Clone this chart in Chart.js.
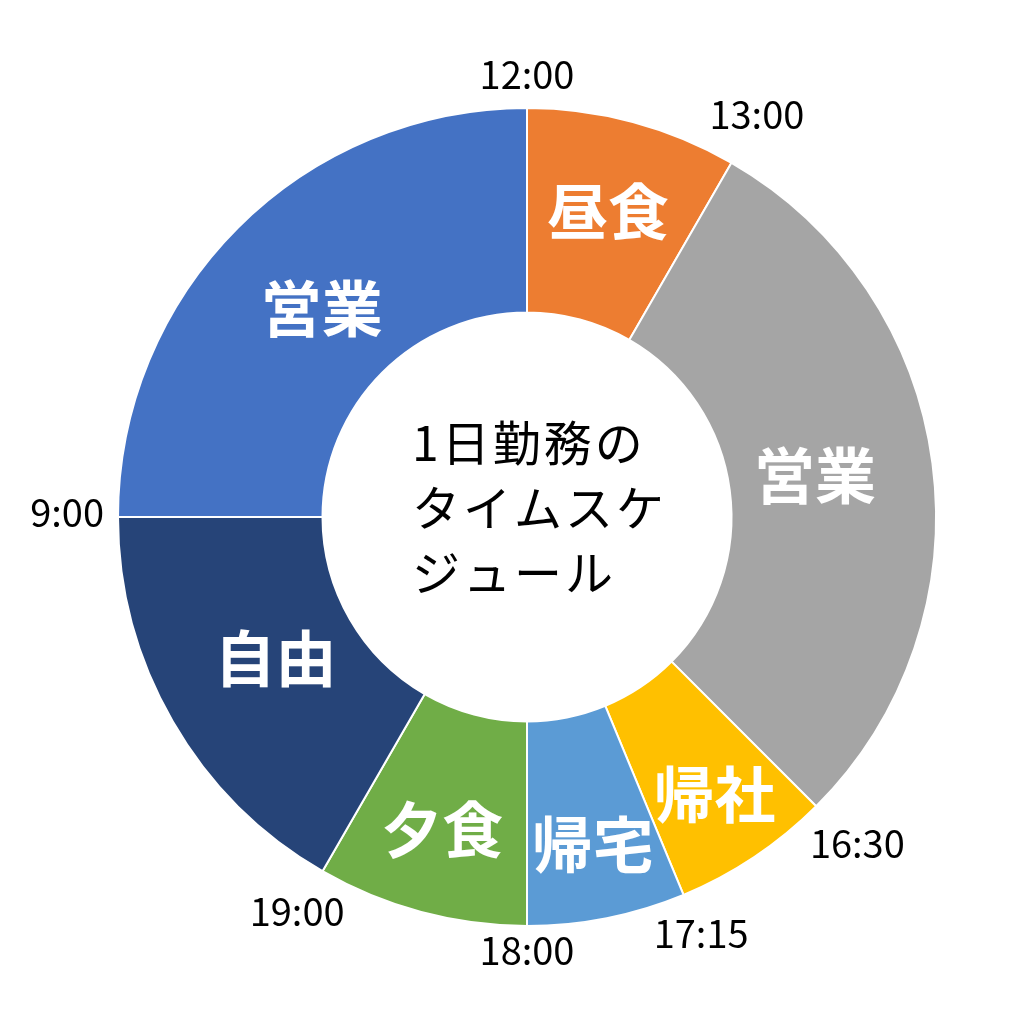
<!DOCTYPE html>
<html lang="ja">
<head>
<meta charset="utf-8">
<script src="https://cdn.jsdelivr.net/npm/chart.js@4"></script>
<style>
  html, body { margin: 0; padding: 0; background: #fff; }
  canvas { display: block; }
</style>
</head>
<body>
<canvas id="schedule" width="1020" height="1024"></canvas>
<script>
// 12時を起点に時計回り
const tasks = ['昼食', '営業', '帰社', '帰宅', '夕食', '自由', '営業'];
const hours = [1, 3.5, 0.75, 0.75, 1, 2, 3];
const startTimes = ['12:00', '13:00', '16:30', '17:15', '18:00', '19:00', '9:00'];
const colors = ['#ED7D31', '#A5A5A5', '#FFC000', '#5B9BD5', '#70AD47', '#264478', '#4472C4'];
const centerLines = ['1日勤務の', 'タイムスケ', 'ジュール'];

const jp = '"Noto Sans CJK JP", "Noto Sans", sans-serif';

// ラベル描画用プラグイン
const labelPlugin = {
    id: 'labels',
    afterDatasetsDraw(chart) {
        const ctx = chart.ctx;
        const arcs = chart.getDatasetMeta(0).data;
        ctx.save();

        // 区間名（白・太字）
        ctx.fillStyle = '#fff';
        ctx.font = 'bold 61px ' + jp;
        ctx.textAlign = 'center';
        ctx.textBaseline = 'middle';
        arcs.forEach((a, i) => {
            const mid = (a.startAngle + a.endAngle) / 2;
            const span = a.endAngle - a.startAngle;
            let r = a.outerRadius * 0.71;             // 広い区間
            if (span < 0.5) r = a.outerRadius * 0.825; // 狭い区間は外側へ
            else if (span < 0.6) r = a.outerRadius * (Math.sin(mid) > 0.5 ? 0.80 : 0.765);
            ctx.fillText(tasks[i], a.x + r * Math.cos(mid), a.y + r * Math.sin(mid) - 3);
        });

        // 開始時刻（外側）
        ctx.fillStyle = '#000';
        ctx.font = '38px ' + jp;
        arcs.forEach((a, i) => {
            const ang = a.startAngle;
            const w = ctx.measureText(startTimes[i]).width;
            const h = 30;
            const r = a.outerRadius + 14 + Math.abs(Math.cos(ang)) * w / 2 + Math.abs(Math.sin(ang)) * h / 2;
            ctx.fillText(startTimes[i], a.x + r * Math.cos(ang), a.y + r * Math.sin(ang) - 4);
        });

        // 中央のタイトル
        const c = arcs[0];
        ctx.font = '48px ' + jp;
        ctx.textAlign = 'left';
        centerLines.forEach((t, i) => {
            let x = c.x - 115;
            for (const ch of t) {
                ctx.fillText(ch, x, c.y - 74 + i * 65);
                x += ctx.measureText(ch).width + 3;
            }
        });
        ctx.restore();
    }
};

new Chart(document.getElementById('schedule'), {
    type: 'doughnut',
    data: {
        labels: tasks,
        datasets: [{
            data: hours,
            backgroundColor: colors,
            borderColor: '#fff',
            borderWidth: 2
        }]
    },
    options: {
        responsive: false,
        animation: false,
        cutout: '50%',
        layout: { padding: { left: 117, right: 83, top: 107, bottom: 97 } },
        plugins: {
            legend: { display: false },
            tooltip: { enabled: false }
        }
    },
    plugins: [labelPlugin]
});
</script>
</body>
</html>
